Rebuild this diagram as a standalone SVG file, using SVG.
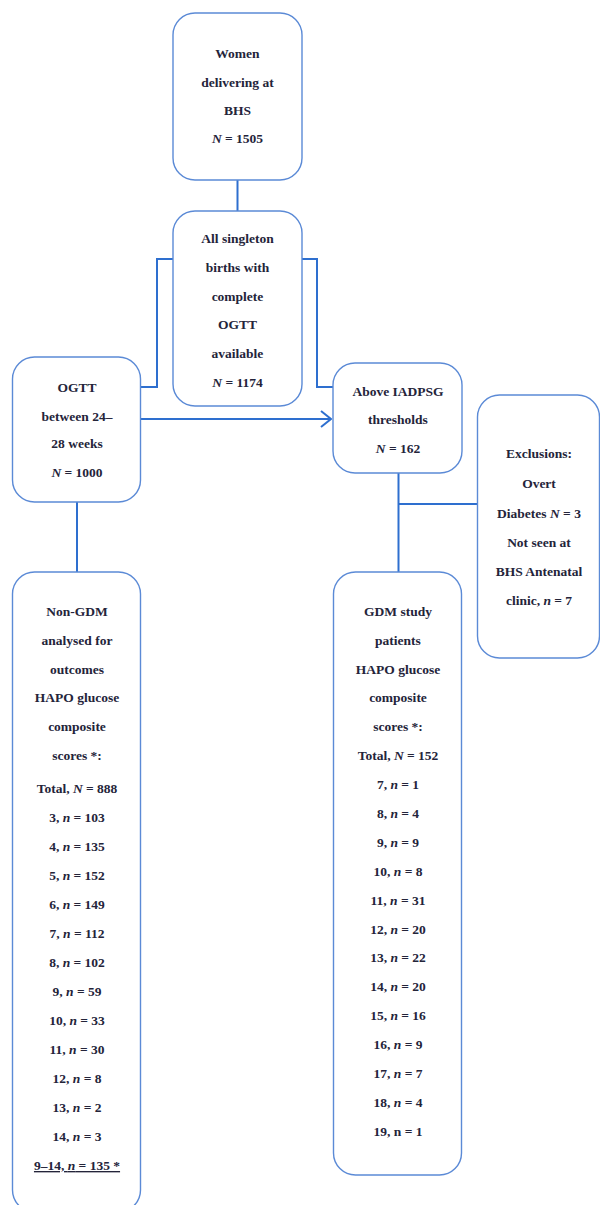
<svg xmlns="http://www.w3.org/2000/svg" width="600" height="1205" viewBox="0 0 600 1205">
<style>
.box{fill:#fff;stroke:#5b8ad6;stroke-width:1.4}
.con{fill:none;stroke:#2e6fcf;stroke-width:2}
text{font-family:"Liberation Serif","DejaVu Serif",serif;font-size:13.5px;font-weight:bold;fill:#24243a;text-anchor:middle}
.i{font-style:italic}
</style>
<defs>
<marker id="arr" markerWidth="12" markerHeight="18" refX="11" refY="9" orient="auto" markerUnits="userSpaceOnUse">
<polyline points="1,1 11,9 1,17" fill="none" stroke="#2e6fcf" stroke-width="2"/>
</marker>
</defs>
<rect width="600" height="1205" fill="#fff"/>
<g id="connectors">
<line class="con" x1="237.5" y1="180" x2="237.5" y2="211"/>
<polyline class="con" points="173,259 157,259 157,387 141,387"/>
<polyline class="con" points="302,259 317,259 317,387 333,387"/>
<line class="con" x1="141" y1="419" x2="331" y2="419" marker-end="url(#arr)"/>
<line class="con" x1="77" y1="476" x2="77" y2="572"/>
<line class="con" x1="398.5" y1="447" x2="398.5" y2="572"/>
<line class="con" x1="398.5" y1="504" x2="477" y2="504"/>
</g>
<g id="n1">
<rect class="box" x="173" y="13" width="129" height="167" rx="22"/>
<text x="237.5" y="58">Women</text>
<text x="237.5" y="87">delivering at</text>
<text x="237.5" y="115">BHS</text>
<text x="237.5" y="143"><tspan class="i">N</tspan> = 1505</text>
</g>
<g id="n2">
<rect class="box" x="173" y="211" width="129" height="195" rx="22"/>
<text x="237.5" y="243">All singleton</text>
<text x="237.5" y="272">births with</text>
<text x="237.5" y="301">complete</text>
<text x="237.5" y="329">OGTT</text>
<text x="237.5" y="358">available</text>
<text x="237.5" y="387"><tspan class="i">N</tspan> = 1174</text>
</g>
<g id="n3">
<rect class="box" x="12.5" y="357" width="128" height="145" rx="22"/>
<text x="77" y="392">OGTT</text>
<text x="77" y="421">between 24–</text>
<text x="77" y="448">28 weeks</text>
<text x="77" y="477"><tspan class="i">N</tspan> = 1000</text>
</g>
<g id="n4">
<rect class="box" x="333" y="363" width="129" height="110" rx="22"/>
<text x="398" y="396">Above IADPSG</text>
<text x="398" y="424">thresholds</text>
<text x="398" y="453"><tspan class="i">N</tspan> = 162</text>
</g>
<g id="n5">
<rect class="box" x="477.5" y="395" width="122" height="263" rx="22"/>
<text x="539" y="458">Exclusions:</text>
<text x="539" y="488">Overt</text>
<text x="539" y="518">Diabetes <tspan class="i">N</tspan> = 3</text>
<text x="539" y="547">Not seen at</text>
<text x="539" y="576">BHS Antenatal</text>
<text x="539" y="605">clinic, <tspan class="i">n</tspan> = 7</text>
</g>
<g id="n6">
<rect class="box" x="12.5" y="572" width="128" height="640" rx="22"/>
<text x="77" y="616">Non-GDM</text>
<text x="77" y="645">analysed for</text>
<text x="77" y="674">outcomes</text>
<text x="77" y="702">HAPO glucose</text>
<text x="77" y="731">composite</text>
<text x="77" y="760">scores *:</text>
<text x="77" y="793">Total, <tspan class="i">N</tspan> = 888</text>
<text x="77" y="822">3, <tspan class="i">n</tspan> = 103</text>
<text x="77" y="851">4, <tspan class="i">n</tspan> = 135</text>
<text x="77" y="880">5, <tspan class="i">n</tspan> = 152</text>
<text x="77" y="909">6, <tspan class="i">n</tspan> = 149</text>
<text x="77" y="938">7, <tspan class="i">n</tspan> = 112</text>
<text x="77" y="967">8, <tspan class="i">n</tspan> = 102</text>
<text x="77" y="996">9, <tspan class="i">n</tspan> = 59</text>
<text x="77" y="1025">10, <tspan class="i">n</tspan> = 33</text>
<text x="77" y="1054">11, <tspan class="i">n</tspan> = 30</text>
<text x="77" y="1083">12, <tspan class="i">n</tspan> = 8</text>
<text x="77" y="1112">13, <tspan class="i">n</tspan> = 2</text>
<text x="77" y="1141">14, <tspan class="i">n</tspan> = 3</text>
<text x="77" y="1170" text-decoration="underline">9–14, <tspan class="i">n</tspan> = 135 *</text>
</g>
<g id="n7">
<rect class="box" x="333.5" y="572" width="128" height="603" rx="22"/>
<text x="398" y="616">GDM study</text>
<text x="398" y="645">patients</text>
<text x="398" y="674">HAPO glucose</text>
<text x="398" y="702">composite</text>
<text x="398" y="731">scores *:</text>
<text x="398" y="760">Total, <tspan class="i">N</tspan> = 152</text>
<text x="398" y="789">7, <tspan class="i">n</tspan> = 1</text>
<text x="398" y="818">8, <tspan class="i">n</tspan> = 4</text>
<text x="398" y="847">9, <tspan class="i">n</tspan> = 9</text>
<text x="398" y="876">10, <tspan class="i">n</tspan> = 8</text>
<text x="398" y="905">11, <tspan class="i">n</tspan> = 31</text>
<text x="398" y="934">12, <tspan class="i">n</tspan> = 20</text>
<text x="398" y="962">13, <tspan class="i">n</tspan> = 22</text>
<text x="398" y="991">14, <tspan class="i">n</tspan> = 20</text>
<text x="398" y="1020">15, <tspan class="i">n</tspan> = 16</text>
<text x="398" y="1049">16, <tspan class="i">n</tspan> = 9</text>
<text x="398" y="1078">17, <tspan class="i">n</tspan> = 7</text>
<text x="398" y="1107">18, <tspan class="i">n</tspan> = 4</text>
<text x="398" y="1136">19, n = 1</text>
</g>
</svg>
